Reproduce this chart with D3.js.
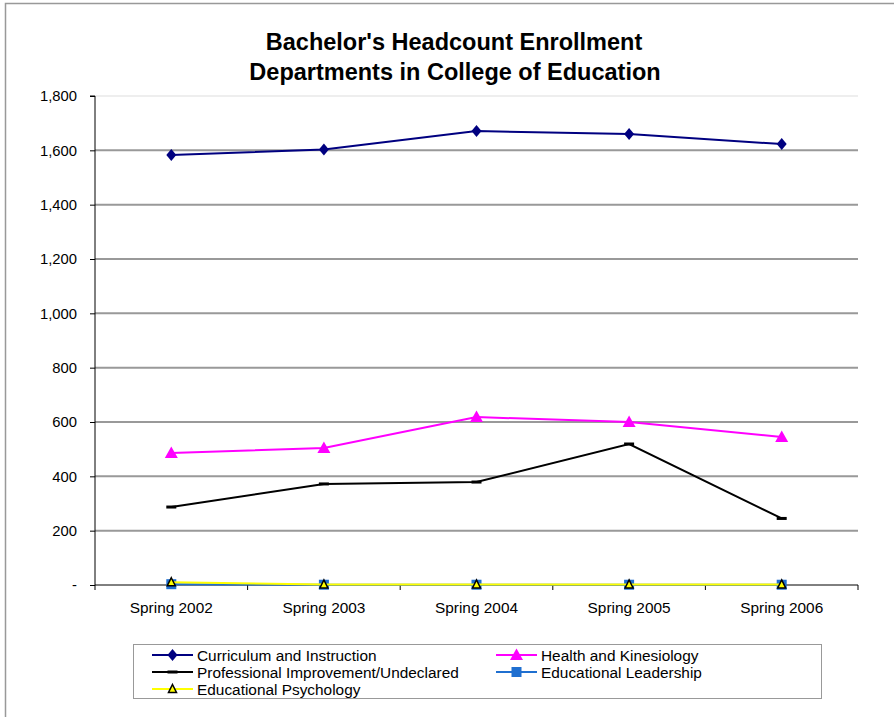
<!DOCTYPE html>
<html><head><meta charset="utf-8">
<script src="https://cdn.jsdelivr.net/npm/d3@7"></script>
<style>body{margin:0;background:#fff}svg{display:block;font-family:Arial,"Liberation Sans",sans-serif}</style>
</head><body><svg id="c" width="894" height="717"></svg>
<script>
const categories = ["Spring 2002","Spring 2003","Spring 2004","Spring 2005","Spring 2006"];
const curriculum = [1583,1603,1671,1660,1623];
const health = [486,504,618,600,545];
const professional = [287,372,379,519,245];
const leadership = [3,1,1,1,1];
const psychology = [10,2,2,2,2];
const yTicks = [0,200,400,600,800,1000,1200,1400,1600,1800];
const seriesNames = ["Curriculum and Instruction","Health and Kinesiology","Professional Improvement/Undeclared","Educational Leadership","Educational Psychology"];

const series = [
  {name:seriesNames[0], values:curriculum, color:"#000080", marker:"diamond"},
  {name:seriesNames[1], values:health, color:"#FF00FF", marker:"triangle"},
  {name:seriesNames[2], values:professional, color:"#000000", marker:"dash"},
  {name:seriesNames[3], values:leadership, color:"#1F6FD0", marker:"square"},
  {name:seriesNames[4], values:psychology, color:"#FFFF00", marker:"otriangle"}
];

const svg = d3.select("#c");
svg.append("rect").attr("x",5.5).attr("y",3.5).attr("width",900).attr("height",720)
  .attr("fill","none").attr("stroke","#999").attr("stroke-width",1.5);

const L=95, R=858, T=96, B=585;
const x = d3.scaleBand().domain(categories).range([L,R]);
const y = d3.scaleLinear().domain([0,1800]).range([B,T]);

const title = svg.append("text").attr("text-anchor","middle").attr("font-weight","bold").attr("font-size",23.5);
title.append("tspan").attr("x",454).attr("y",50).text("Bachelor's Headcount Enrollment");
title.append("tspan").attr("x",455).attr("y",80).text("Departments in College of Education");

svg.append("g").selectAll("line").data(yTicks.filter(d=>d>0)).join("line")
  .attr("x1",L).attr("x2",R).attr("y1",d=>y(d)).attr("y2",d=>y(d))
  .attr("stroke",d=>d===1800?"#eee":"#999").attr("stroke-width",2);

const yAxis = d3.axisLeft(y).tickValues(yTicks).tickSize(5).tickPadding(13)
  .tickFormat(d=>d===0?"-":d3.format(",")(d));
const gy = svg.append("g").attr("transform",`translate(${L},0)`).call(yAxis);
gy.select(".domain").attr("stroke","#000").attr("d",`M-5,${T}H0V${B}`);
gy.selectAll("text").attr("font-size",14.8).attr("fill","#000").attr("font-family","Arial,'Liberation Sans',sans-serif");

const xAxis = d3.axisBottom(x).tickSize(0).tickPadding(17);
const gx = svg.append("g").attr("transform",`translate(0,${B})`).call(xAxis);
gx.select(".domain").attr("stroke","#000").attr("d",`M${L},0H${R}`);
gx.selectAll("text").attr("font-size",15.4).attr("fill","#000").attr("font-family","Arial,'Liberation Sans',sans-serif");
const bounds = categories.map(c=>x(c)).concat([x(categories[categories.length-1])+x.bandwidth()]);
gx.append("g").selectAll("line").data(bounds).join("line")
  .attr("x1",d=>d).attr("x2",d=>d).attr("y1",0).attr("y2",5).attr("stroke","#000");

const cx = c => x(c)+x.bandwidth()/2;

function drawMarker(g, type, color, px, py){
  if(type==="diamond"){
    g.append("path").attr("d",`M${px},${py-6}L${px+5},${py}L${px},${py+6}L${px-5},${py}Z`).attr("fill",color);
  } else if(type==="triangle"){
    g.append("path").attr("d",`M${px},${py-6.5}L${px+6.5},${py+5}L${px-6.5},${py+5}Z`).attr("fill",color);
  } else if(type==="dash"){
    g.append("rect").attr("x",px-5).attr("y",py-1.5).attr("width",10).attr("height",3).attr("fill",color);
  } else if(type==="square"){
    g.append("rect").attr("x",px-5).attr("y",py-5).attr("width",10).attr("height",10).attr("fill",color);
  } else if(type==="otriangle"){
    g.append("path").attr("d",`M${px},${py-4.5}L${px+4},${py+3.5}L${px-4},${py+3.5}Z`).attr("fill",color).attr("stroke","#000").attr("stroke-width",1.5);
  }
}

const line = d3.line().x((d,i)=>cx(categories[i])).y(d=>y(d));
series.forEach(s=>{
  const g = svg.append("g");
  g.append("path").attr("d",line(s.values)).attr("fill","none").attr("stroke",s.color).attr("stroke-width",2);
  s.values.forEach((v,i)=>drawMarker(g,s.marker,s.color,cx(categories[i]),y(v)));
});

const lg = svg.append("g");
lg.append("rect").attr("x",133.5).attr("y",644.5).attr("width",688).attr("height",54)
  .attr("fill","#fff").attr("stroke","#999").attr("stroke-width",1);
const pos = [[152,655],[496,655],[152,672],[496,672],[152,689]];
series.forEach((s,i)=>{
  const [lx,ly] = pos[i];
  lg.append("line").attr("x1",lx).attr("x2",lx+41).attr("y1",ly).attr("y2",ly).attr("stroke",s.color).attr("stroke-width",2);
  drawMarker(lg,s.marker,s.color,lx+20.5,ly);
  lg.append("text").attr("x",lx+45).attr("y",ly+5.5).attr("font-size",15.4).text(s.name);
});
</script></body></html>
